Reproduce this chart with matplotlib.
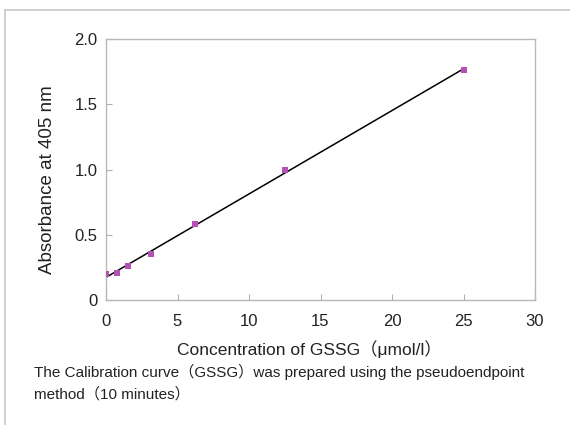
import numpy as np
import matplotlib.pyplot as plt
from matplotlib.lines import Line2D

# GSSG calibration data
concentration = [0, 0.78, 1.56, 3.125, 6.25, 12.5, 25]
absorbance = [0.20, 0.21, 0.26, 0.35, 0.58, 1.00, 1.76]
x_ticks = [0, 5, 10, 15, 20, 25, 30]
y_ticks = [0, 0.5, 1.0, 1.5, 2.0]
y_tick_labels = ['0', '0.5', '1.0', '1.5', '2.0']

fonts = ['Liberation Sans', 'Noto Sans CJK JP', 'DejaVu Sans']
plt.rcParams['font.family'] = fonts

fig = plt.figure(figsize=(5.7, 4.25), dpi=100)
ax = fig.add_axes([106 / 570, 125 / 425, 429 / 570, 261 / 425])

# linear fit through the points
slope, intercept = np.polyfit(concentration, absorbance, 1)
fit_x = np.array([0, 25])
ax.plot(fit_x, slope * fit_x + intercept, color='black', lw=1.1, zorder=2)
ax.scatter(concentration, absorbance, marker='s', s=16, color='#b452b4', zorder=3, linewidths=0)

ax.set_xlim(0, 30)
ax.set_ylim(0, 2.0)
ax.set_xticks(x_ticks)
ax.set_yticks(y_ticks)
ax.set_yticklabels(y_tick_labels)
ax.tick_params(direction='in', length=4, color='#b0b0b0', labelsize=12, labelcolor='#222222')
ax.tick_params(axis='x', pad=10)
ax.tick_params(axis='y', pad=6)
for s in ax.spines.values():
    s.set_color('#b8b8b8')
    s.set_linewidth(1.0)

ax.set_ylabel('Absorbance at 405 nm', fontsize=13.5, color='#222222')
ax.yaxis.set_label_coords(-0.117, 0.46)
ax.set_xlabel('Concentration of GSSG（μmol/l）', fontsize=12.5, color='#222222')
ax.xaxis.set_label_coords(0.473, -0.152)

# caption under the chart
fig.text(34 / 570, 1 - 372 / 425, 'The Calibration curve（GSSG）was prepared using the pseudoendpoint',
         fontsize=11, color='#222222', va='center', ha='left')
fig.text(34 / 570, 1 - 394 / 425, 'method（10 minutes）',
         fontsize=11, color='#222222', va='center', ha='left')

# outer panel border (left and top)
fig.add_artist(Line2D([5 / 570, 5 / 570], [0, 1 - 10 / 425], transform=fig.transFigure, color='#c8c8c8', lw=1.2))
fig.add_artist(Line2D([5 / 570, 1], [1 - 10 / 425, 1 - 10 / 425], transform=fig.transFigure, color='#c8c8c8', lw=1.2))

fig.savefig('out.png', dpi=100)
